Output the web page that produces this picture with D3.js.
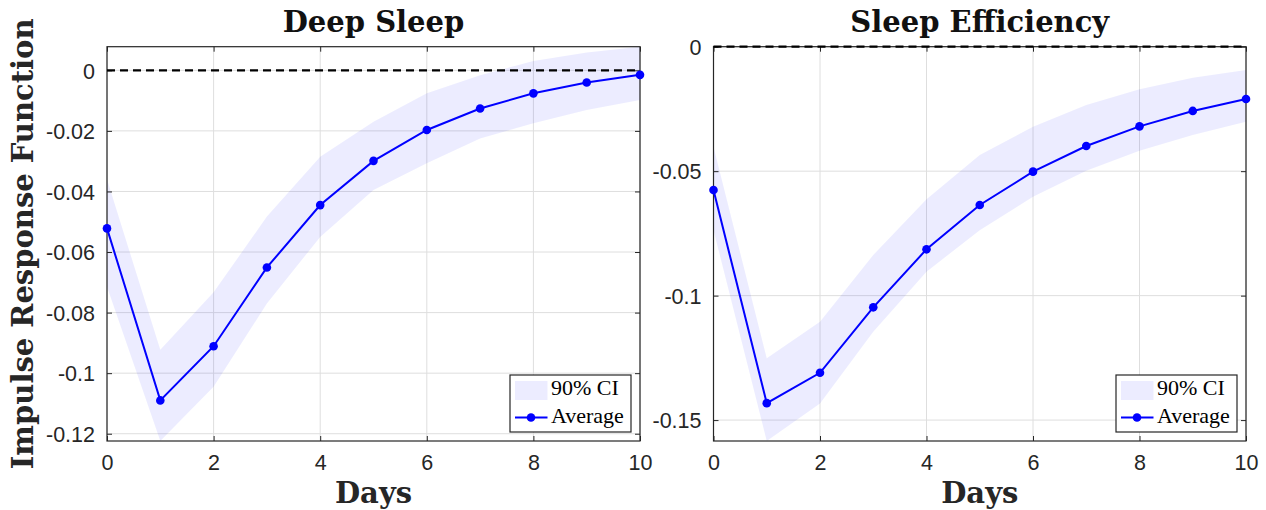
<!DOCTYPE html>
<html>
<head>
<meta charset="utf-8">
<script src="https://cdn.jsdelivr.net/npm/d3@7"></script>
<style>
  html, body { margin: 0; padding: 0; background: #fff; }
  svg { display: block; }
</style>
</head>
<body>
<svg id="chart" width="1266" height="510"></svg>
<script>
// ---- data ----
const days = [0, 1, 2, 3, 4, 5, 6, 7, 8, 9, 10];
const xTicks = [0, 2, 4, 6, 8, 10];

const deepAvg   = [-0.0522, -0.1090, -0.0911, -0.0651, -0.0445, -0.0299, -0.0197, -0.0126, -0.0076, -0.0040, -0.0015];
const deepUpper = [-0.0360, -0.0923, -0.0733, -0.0483, -0.0285, -0.0170, -0.0076, -0.0016, 0.0031, 0.0059, 0.0078];
const deepLower = [-0.0715, -0.1224, -0.1045, -0.0770, -0.0550, -0.0395, -0.0307, -0.0225, -0.0175, -0.0131, -0.0098];
const deepTicks = [0, -0.02, -0.04, -0.06, -0.08, -0.1, -0.12];

const effAvg   = [-0.0576, -0.1432, -0.1310, -0.1047, -0.0814, -0.0636, -0.0502, -0.0399, -0.0320, -0.0258, -0.0210];
const effUpper = [-0.0402, -0.1252, -0.1105, -0.0837, -0.0613, -0.0435, -0.0322, -0.0234, -0.0171, -0.0125, -0.0094];
const effLower = [-0.0737, -0.1584, -0.1433, -0.1145, -0.0904, -0.0737, -0.0603, -0.0498, -0.0418, -0.0355, -0.0301];
const effTicks = [0, -0.05, -0.1, -0.15];

const titles = ["Deep Sleep", "Sleep Efficiency"];
const xLabel = "Days";
const yLabel = "Impulse Response Function";
const legendLabels = ["90% CI", "Average"];

// ---- drawing ----
const svg = d3.select("#chart");
const axColor = "#262626";
const plotTop = 46.7, plotBottom = 441;

function panel(cfg) {
  const { left, right, avg, upper, lower, yTicks, title } = cfg;
  const x = d3.scaleLinear().domain([0, 10]).range([left, right]);
  const yMin = d3.min(lower);
  const yMax = Math.max(0, d3.max(upper));
  const y = d3.scaleLinear().domain([yMin, yMax]).range([plotBottom, plotTop]);

  const g = svg.append("g");

  // grid
  g.append("g").selectAll("line").data(xTicks).join("line")
    .attr("x1", d => x(d)).attr("x2", d => x(d))
    .attr("y1", plotTop).attr("y2", plotBottom)
    .attr("stroke", "#dedede").attr("stroke-width", 1);
  g.append("g").selectAll("line").data(yTicks).join("line")
    .attr("x1", left).attr("x2", right)
    .attr("y1", d => y(d)).attr("y2", d => y(d))
    .attr("stroke", "#dedede").attr("stroke-width", 1);

  // CI band
  const area = d3.area()
    .x((d, i) => x(days[i]))
    .y0((d, i) => y(lower[i]))
    .y1((d, i) => y(upper[i]));
  g.append("path").datum(days).attr("d", area)
    .attr("fill", "#0000ff").attr("fill-opacity", 0.075);

  // axes (ticks inward)
  const axL = d3.axisLeft(y).tickValues(yTicks).tickSize(-5).tickPadding(12).tickFormat(d => String(d));
  const axR = d3.axisRight(y).tickValues(yTicks).tickSize(-5).tickFormat("");
  const axB = d3.axisBottom(x).tickValues(xTicks).tickSize(-5).tickPadding(14).tickFormat(d => String(d));
  const axT = d3.axisTop(x).tickValues(xTicks).tickSize(-5).tickFormat("");

  function styleAxis(sel) {
    sel.select(".domain").remove();
    sel.selectAll(".tick line").attr("stroke", axColor).attr("stroke-width", 1);
    sel.selectAll(".tick text").attr("fill", axColor)
      .attr("font-family", "'Liberation Sans', Arial, sans-serif")
      .attr("font-size", "21.5px");
  }
  g.append("g").attr("transform", `translate(${left},0)`).call(axL).call(styleAxis)
    .selectAll(".tick text").attr("dy", "0.36em");
  g.append("g").attr("transform", `translate(${right},0)`).call(axR).call(styleAxis);
  g.append("g").attr("transform", `translate(0,${plotBottom})`).call(axB).call(styleAxis)
    .selectAll(".tick text").attr("dy", "0.71em");
  g.append("g").attr("transform", `translate(0,${plotTop})`).call(axT).call(styleAxis);

  // box
  g.append("rect").attr("x", left).attr("y", plotTop)
    .attr("width", right - left).attr("height", plotBottom - plotTop)
    .attr("fill", "none").attr("stroke", axColor).attr("stroke-width", 1.2);

  // zero dashed line
  g.append("line").attr("x1", left).attr("x2", right)
    .attr("y1", y(0)).attr("y2", y(0))
    .attr("stroke", "#000").attr("stroke-width", 2.2).attr("stroke-dasharray", "8,5");

  // average line + markers
  const line = d3.line().x((d, i) => x(days[i])).y(d => y(d));
  g.append("path").datum(avg).attr("d", line)
    .attr("fill", "none").attr("stroke", "#0000ff").attr("stroke-width", 2);
  g.append("g").selectAll("circle").data(avg).join("circle")
    .attr("cx", (d, i) => x(days[i])).attr("cy", d => y(d)).attr("r", 4.3)
    .attr("fill", "#0000ff");

  // title
  g.append("text").attr("x", (left + right) / 2).attr("y", 32)
    .attr("text-anchor", "middle")
    .attr("font-family", "'DejaVu Serif', serif").attr("font-weight", "bold")
    .attr("font-size", "29px").attr("fill", "#111").text(title);

  // x label
  g.append("text").attr("x", (left + right) / 2).attr("y", 503)
    .attr("text-anchor", "middle")
    .attr("font-family", "'DejaVu Serif', serif").attr("font-weight", "bold")
    .attr("font-size", "29px").attr("fill", "#262626").text(xLabel);

  // legend
  const lw = 121, lh = 57;
  const lx = right - 9 - lw, ly = 375;
  const lg = g.append("g").attr("transform", `translate(${lx},${ly})`);
  lg.append("rect").attr("width", lw).attr("height", lh)
    .attr("fill", "#fff").attr("stroke", axColor).attr("stroke-width", 1.2);
  lg.append("rect").attr("x", 5).attr("y", 6).attr("width", 32.5).attr("height", 19)
    .attr("fill", "#0000ff").attr("fill-opacity", 0.075);
  lg.append("line").attr("x1", 5).attr("x2", 37.5).attr("y1", 42.5).attr("y2", 42.5)
    .attr("stroke", "#0000ff").attr("stroke-width", 2);
  lg.append("circle").attr("cx", 21).attr("cy", 42.5).attr("r", 4.3).attr("fill", "#0000ff");
  lg.selectAll("text").data(legendLabels).join("text")
    .attr("x", 41).attr("y", (d, i) => i === 0 ? 20 : 48)
    .attr("font-family", "'Liberation Serif', 'Times New Roman', serif")
    .attr("font-size", "22px").attr("fill", "#000").text(d => d);
}

panel({ left: 107, right: 640, avg: deepAvg, upper: deepUpper, lower: deepLower, yTicks: deepTicks, title: titles[0] });
panel({ left: 713.5, right: 1246, avg: effAvg, upper: effUpper, lower: effLower, yTicks: effTicks, title: titles[1] });

// shared y label
svg.append("text")
  .attr("transform", `translate(33,${(plotTop + plotBottom) / 2}) rotate(-90)`)
  .attr("text-anchor", "middle")
  .attr("font-family", "'DejaVu Serif', serif").attr("font-weight", "bold")
  .attr("font-size", "29px").attr("fill", "#262626").text(yLabel);
</script>
</body>
</html>
